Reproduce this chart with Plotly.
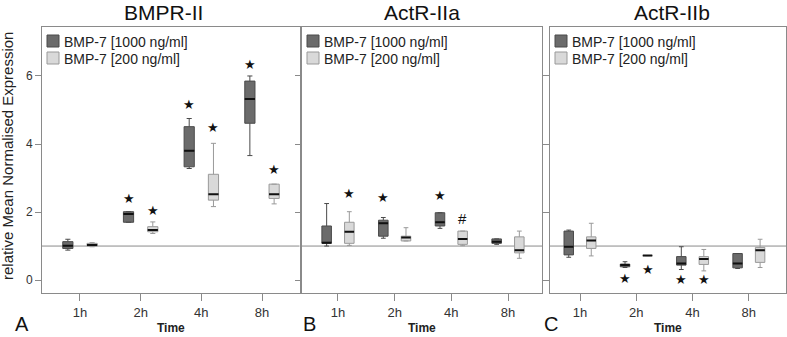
import plotly.graph_objects as go

W, H = 787, 337

times = ["1h", "2h", "4h", "8h"]
panel_titles = ["BMPR-II", "ActR-IIa", "ActR-IIb"]
panel_letters = ["A", "B", "C"]
series_names = ["BMP-7 [1000 ng/ml]", "BMP-7 [200 ng/ml]"]
y_ticks = [0, 2, 4, 6]
ref_level = 1.0

# ---- Panel A: BMPR-II ----
a_hi_lo = [0.88, 1.70, 3.28, 3.66]
a_hi_q1 = [0.93, 1.70, 3.33, 4.61]
a_hi_med = [1.01, 1.94, 3.80, 5.32]
a_hi_q3 = [1.13, 2.01, 4.51, 5.85]
a_hi_up = [1.20, 2.01, 4.75, 6.00]
a_lo_lo = [0.98, 1.37, 2.16, 2.24]
a_lo_q1 = [1.00, 1.42, 2.35, 2.40]
a_lo_med = [1.03, 1.47, 2.52, 2.52]
a_lo_q3 = [1.08, 1.57, 3.11, 2.82]
a_lo_up = [1.10, 1.71, 4.02, 2.82]
a_mark_time = ["2h", "4h", "8h", "2h", "4h", "8h"]
a_mark_series = [0, 0, 0, 1, 1, 1]
a_mark_y = [2.40, 5.15, 6.35, 2.04, 4.48, 3.26]
a_mark_sym = ["★", "★", "★", "★", "★", "★"]

# ---- Panel B: ActR-IIa ----
b_hi_lo = [1.00, 1.23, 1.52, 1.05]
b_hi_q1 = [1.08, 1.29, 1.59, 1.08]
b_hi_med = [1.10, 1.67, 1.70, 1.13]
b_hi_q3 = [1.59, 1.76, 1.98, 1.21]
b_hi_up = [2.25, 1.84, 1.98, 1.21]
b_lo_lo = [1.02, 1.15, 1.01, 0.64]
b_lo_q1 = [1.08, 1.15, 1.05, 0.80]
b_lo_med = [1.42, 1.25, 1.21, 0.88]
b_lo_q3 = [1.70, 1.29, 1.44, 1.27]
b_lo_up = [2.01, 1.54, 1.44, 1.44]
b_mark_time = ["1h", "2h", "4h", "4h"]
b_mark_series = [1, 0, 0, 1]
b_mark_y = [2.55, 2.43, 2.48, 1.81]
b_mark_sym = ["★", "★", "★", "#"]

# ---- Panel C: ActR-IIb ----
c_hi_lo = [0.67, 0.37, 0.31, 0.34]
c_hi_q1 = [0.74, 0.39, 0.44, 0.36]
c_hi_med = [0.98, 0.44, 0.49, 0.49]
c_hi_q3 = [1.44, 0.47, 0.69, 0.78]
c_hi_up = [1.47, 0.54, 0.98, 0.78]
c_lo_lo = [0.71, 0.72, 0.27, 0.37]
c_lo_q1 = [0.93, 0.72, 0.46, 0.52]
c_lo_med = [1.16, 0.72, 0.62, 0.88]
c_lo_q3 = [1.27, 0.72, 0.69, 0.96]
c_lo_up = [1.67, 0.72, 0.90, 1.20]
c_mark_time = ["2h", "2h", "4h", "4h"]
c_mark_series = [0, 1, 0, 1]
c_mark_y = [0.05, 0.31, 0.02, 0.02]
c_mark_sym = ["★", "★", "★", "★"]

panels = [
    dict(hi=(a_hi_lo, a_hi_q1, a_hi_med, a_hi_q3, a_hi_up),
         lo=(a_lo_lo, a_lo_q1, a_lo_med, a_lo_q3, a_lo_up),
         marks=(a_mark_time, a_mark_series, a_mark_y, a_mark_sym)),
    dict(hi=(b_hi_lo, b_hi_q1, b_hi_med, b_hi_q3, b_hi_up),
         lo=(b_lo_lo, b_lo_q1, b_lo_med, b_lo_q3, b_lo_up),
         marks=(b_mark_time, b_mark_series, b_mark_y, b_mark_sym)),
    dict(hi=(c_hi_lo, c_hi_q1, c_hi_med, c_hi_q3, c_hi_up),
         lo=(c_lo_lo, c_lo_q1, c_lo_med, c_lo_q3, c_lo_up),
         marks=(c_mark_time, c_mark_series, c_mark_y, c_mark_sym)),
]

# ---- layout geometry (pixels) ----
px_x = [(42, 299.5), (302, 542), (550, 786)]
x_ranges = [[-0.626, 3.618], [-0.635, 3.6], [-0.533, 3.66]]
offset_px = [12, 11.3, 11.3]
y_top_px, y_bot_px = 27, 293
y_range = [-0.38, 7.44]

FONT = "Liberation Sans, Arial, sans-serif"
frame_col = "#8a8a8a"
dark_fill, dark_line = "#6b6b6b", "#4a4a4a"
light_fill, light_line = "#d9d9d9", "#999999"
fills = [dark_fill, light_fill]
lines = [dark_line, light_line]
groups = ["hi", "lo"]

fig = go.Figure()
layout = dict(
    width=W, height=H, autosize=False,
    margin=dict(l=0, r=0, t=0, b=0),
    paper_bgcolor="white", plot_bgcolor="white",
    boxmode="group", boxgap=0.2, boxgroupgap=0.58,
    showlegend=False,
    font=dict(family=FONT, color="#222"),
)
shapes = []
annotations = []

for i, p in enumerate(panels):
    sfx = "" if i == 0 else str(i + 1)
    xa, ya = "x" + sfx, "y" + sfx
    for s, key in enumerate(["hi", "lo"]):
        lo, q1, med, q3, up = p[key]
        fig.add_trace(go.Box(
            x=times, lowerfence=lo, q1=q1, median=med, q3=q3, upperfence=up,
            xaxis=xa, yaxis=ya, offsetgroup=groups[s], name=series_names[s],
            fillcolor=fills[s], line=dict(color=lines[s], width=1),
            whiskerwidth=0.5, boxpoints=False, hoverinfo="skip",
        ))
        # black median overlay
        fig.add_trace(go.Box(
            x=times, lowerfence=med, q1=med, median=med, q3=med, upperfence=med,
            xaxis=xa, yaxis=ya, offsetgroup=groups[s], name=series_names[s],
            fillcolor="rgba(0,0,0,0)", line=dict(color="#111111", width=2),
            whiskerwidth=0, boxpoints=False, hoverinfo="skip",
        ))

    x0p, x1p = px_x[i]
    layout["xaxis" + sfx] = dict(
        domain=[x0p / W, x1p / W], anchor=ya, type="category",
        categoryorder="array", categoryarray=times, range=x_ranges[i],
        showline=True, mirror=True, linecolor=frame_col, linewidth=1,
        ticks="outside", ticklen=7, tickcolor=frame_col, tickwidth=1,
        tickfont=dict(size=13, color="#333", family=FONT),
        showgrid=False, zeroline=False, fixedrange=True,
    )
    layout["yaxis" + sfx] = dict(
        domain=[1 - y_bot_px / H, 1 - y_top_px / H], anchor=xa,
        range=y_range, tickvals=y_ticks, showticklabels=(i == 0),
        showline=True, mirror=True, linecolor=frame_col, linewidth=1,
        ticks="outside", ticklen=6, tickcolor=frame_col, tickwidth=1,
        tickfont=dict(size=12, color="#333", family=FONT),
        showgrid=False, zeroline=False, fixedrange=True,
    )

    # reference line
    shapes.append(dict(type="line", xref=xa + " domain", yref=ya,
                       x0=0, x1=1, y0=ref_level, y1=ref_level,
                       line=dict(color="#8a8a8a", width=1), layer="below"))

    # legend (manual)
    for s in range(2):
        top = -8 - s * 17
        shapes.append(dict(type="rect", xref=xa + " domain", yref=ya + " domain",
                           xsizemode="pixel", ysizemode="pixel",
                           xanchor=0, yanchor=1,
                           x0=5, x1=17, y0=top - 12, y1=top,
                           fillcolor=fills[s], line=dict(color=lines[s], width=1)))
        annotations.append(dict(xref=xa + " domain", yref=ya + " domain",
                                x=0, y=1, xshift=20, yshift=top - 6.5,
                                xanchor="left", yanchor="middle", showarrow=False,
                                text=series_names[s],
                                font=dict(size=14, color="#222", family=FONT)))

    # significance marks
    mt, ms, my, msym = p["marks"]
    for t, s, yv, sym in zip(mt, ms, my, msym):
        annotations.append(dict(xref=xa, yref=ya, x=t, y=yv,
                                xshift=(-1 if s == 0 else 1) * offset_px[i],
                                showarrow=False, text=sym,
                                xanchor="center", yanchor="middle",
                                font=dict(size=13 if sym == "★" else 15,
                                          color="#111", family=FONT)))

    # Time axis title
    annotations.append(dict(xref=xa + " domain", yref="paper", x=0.5, y=1 - 328 / H,
                            showarrow=False, text="<b>Time</b>",
                            xanchor="center", yanchor="middle",
                            font=dict(size=12, color="#222", family=FONT)))

# panel titles
title_px = [163, 422, 672]
for i in range(3):
    annotations.append(dict(xref="paper", yref="paper", x=title_px[i] / W, y=1 - 12 / H,
                            showarrow=False, text=panel_titles[i],
                            xanchor="center", yanchor="middle",
                            font=dict(size=21, color="#111", family=FONT)))

# panel letters
letter_px = [22, 309, 551]
for i in range(3):
    annotations.append(dict(xref="paper", yref="paper", x=letter_px[i] / W, y=1 - 324 / H,
                            showarrow=False, text=panel_letters[i],
                            xanchor="center", yanchor="middle",
                            font=dict(size=20, color="#111", family=FONT)))

# y axis title
annotations.append(dict(xref="paper", yref="paper", x=7 / W, y=1 - 156 / H,
                        showarrow=False, text="relative Mean Normalised Expression",
                        textangle=-90, xanchor="center", yanchor="middle",
                        font=dict(size=15, color="#222", family=FONT)))

layout["shapes"] = shapes
layout["annotations"] = annotations
fig.update_layout(**layout)
fig.write_html(
    "out.html",
    config={"displayModeBar": False, "staticPlot": True},
    post_script="document.body.style.margin='0';document.body.style.overflow='hidden';",
)
